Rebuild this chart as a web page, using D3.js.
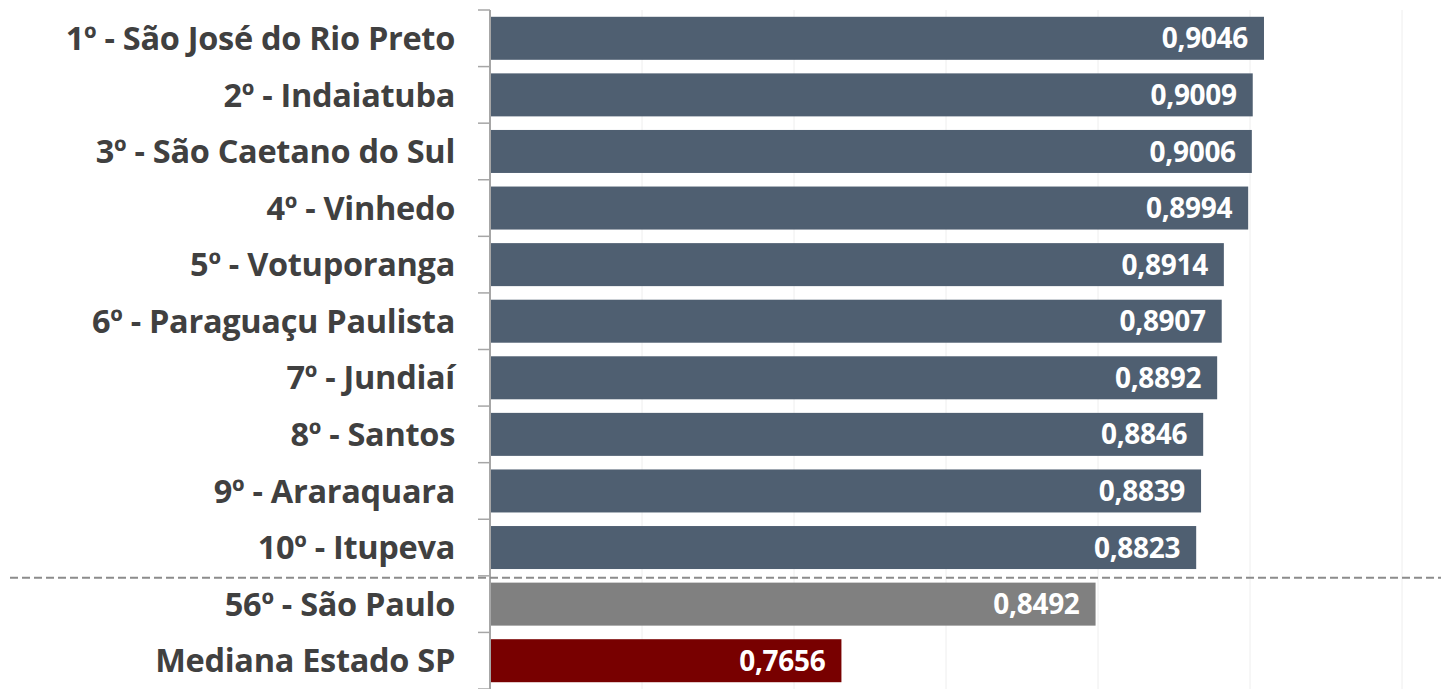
<!DOCTYPE html>
<html>
<head>
<meta charset="utf-8">
<script src="https://cdn.jsdelivr.net/npm/d3@7"></script>
<style>
  html, body { margin: 0; padding: 0; background: #fff; }
  svg { display: block; }
</style>
</head>
<body>
<svg id="chart" width="1441" height="689"></svg>
<script>
// Ranking of municipalities (index value, 0–1 scale)
const categories = [
  "1º - São José do Rio Preto",
  "2º - Indaiatuba",
  "3º - São Caetano do Sul",
  "4º - Vinhedo",
  "5º - Votuporanga",
  "6º - Paraguaçu Paulista",
  "7º - Jundiaí",
  "8º - Santos",
  "9º - Araraquara",
  "10º - Itupeva",
  "56º - São Paulo",
  "Mediana Estado SP"
];
const values = [0.9046, 0.9009, 0.9006, 0.8994, 0.8914, 0.8907, 0.8892, 0.8846, 0.8839, 0.8823, 0.8492, 0.7656];
const groups = ["top", "top", "top", "top", "top", "top", "top", "top", "top", "top", "capital", "median"];
const gridTicks = [0.70, 0.75, 0.80, 0.85, 0.90, 0.95];

const colors = { top: "#4f5f71", capital: "#808080", median: "#780000" };

const svg = d3.select("#chart");
const W = 1441, H = 689;
const x0 = 490, plotTop = 10;

const x = d3.scaleLinear().domain([0.65, 0.95]).range([x0, 1402]);
const y = d3.scaleBand().domain(categories).range([plotTop, H]).paddingInner(0.24).paddingOuter(0.12);

// vertical gridlines
svg.append("g")
  .selectAll("line")
  .data(gridTicks)
  .join("line")
  .attr("x1", d => x(d)).attr("x2", d => x(d))
  .attr("y1", plotTop).attr("y2", H)
  .attr("stroke", "#eeeeee").attr("stroke-width", 1);

// bars
svg.append("g")
  .selectAll("rect")
  .data(categories)
  .join("rect")
  .attr("x", x0)
  .attr("y", d => y(d))
  .attr("width", (d, i) => x(values[i]) - x0)
  .attr("height", y.bandwidth())
  .attr("fill", (d, i) => colors[groups[i]]);

// category axis with tick marks between categories
const step = y.step();
const boundaries = d3.range(categories.length + 1).map(i => plotTop + i * step);
svg.append("line")
  .attr("x1", x0).attr("x2", x0)
  .attr("y1", plotTop).attr("y2", H)
  .attr("stroke", "#a6a6a6").attr("stroke-width", 2);
svg.append("g")
  .selectAll("line")
  .data(boundaries)
  .join("line")
  .attr("x1", x0 - 12).attr("x2", x0)
  .attr("y1", d => d).attr("y2", d => d)
  .attr("stroke", "#a6a6a6").attr("stroke-width", 1.5);

// category labels
svg.append("g")
  .selectAll("text")
  .data(categories)
  .join("text")
  .attr("x", 455)
  .attr("y", d => y(d) + y.bandwidth() / 2)
  .attr("dy", "0.36em")
  .attr("text-anchor", "end")
  .attr("font-family", "'Open Sans', Lato, sans-serif")
  .attr("font-weight", 700)
  .attr("font-size", 32.5)
  .attr("letter-spacing", -0.3)
  .attr("fill", "#404040")
  .text(d => d);

// value labels inside bar ends
const fmt = v => d3.format(".4f")(v).replace(".", ",");
svg.append("g")
  .selectAll("text")
  .data(categories)
  .join("text")
  .attr("x", (d, i) => x(values[i]) - 16)
  .attr("y", d => y(d) + y.bandwidth() / 2)
  .attr("dy", "0.36em")
  .attr("text-anchor", "end")
  .attr("font-family", "'Open Sans', Lato, sans-serif")
  .attr("font-weight", 700)
  .attr("font-size", 28)
  .attr("letter-spacing", -0.3)
  .attr("fill", "#ffffff")
  .text((d, i) => fmt(values[i]));

// dashed separator between the top ten and the reference rows
const sepY = plotTop + 10 * step + 2;
svg.append("line")
  .attr("x1", 10).attr("x2", W)
  .attr("y1", sepY).attr("y2", sepY)
  .attr("stroke", "#8c8c8c").attr("stroke-width", 2)
  .attr("stroke-dasharray", "8,4");
</script>
</body>
</html>
